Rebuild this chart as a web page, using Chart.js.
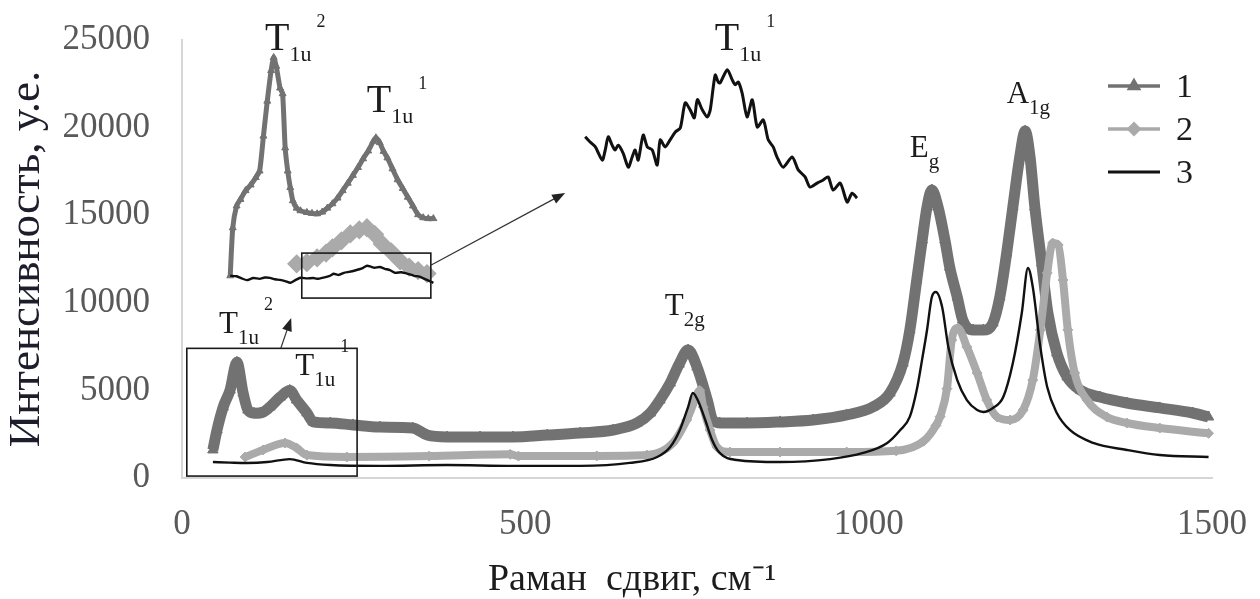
<!DOCTYPE html>
<html>
<head>
<meta charset="utf-8">
<title>Раман спектры</title>
<script src="https://cdn.jsdelivr.net/npm/chart.js@4.4.1/dist/chart.umd.min.js"></script>
<style>
  body { margin: 0; background: #fff; }
  #wrap { position: relative; width: 1260px; height: 599px; }
  #wrap canvas { position: absolute; }
</style>
</head>
<body>
<div id="wrap">
  <canvas id="raman" width="1260" height="599" style="left:0;top:0"></canvas>
  <canvas id="zoom-low" width="230" height="262" style="left:220px;top:40px"></canvas>
  <canvas id="zoom-t1u" width="290" height="150" style="left:575px;top:60px"></canvas>
</div>
<script>
// ---- spectra, Raman shift (cm-1) / intensity (a.u.) ----
var shift1 = [45,51,60,70,80,89,96,105,114,128,143,157,167,182,191,216,249,288,336,357,386,434,482,532,580,628,663,682,696,711,724,737,750,765,773,783,823,871,919,968,1006,1031,1050,1060,1070,1078,1085,1092,1101,1111,1118,1129,1137,1152,1167,1181,1191,1201,1210,1220,1228,1235,1242,1252,1261,1274,1289,1308,1337,1376,1424,1472,1495];
var int1 = [1600,2740,4050,5020,6600,4850,3880,3700,3710,4050,4620,5000,4450,3710,3200,3140,3030,2910,2850,2450,2340,2340,2340,2450,2570,2740,3140,3710,4450,5420,6500,7300,6340,4450,3310,3140,3140,3200,3310,3600,4050,4850,6560,8450,11300,13590,15470,16440,15470,13590,12040,10330,9020,8450,8450,8850,10330,12840,15470,18320,19800,18320,15470,12270,9420,7140,5770,5020,4620,4280,4000,3710,3480];

var shift2 = [92,118,150,167,182,240,360,478,490,604,677,715,735,747,754,759,769,779,798,871,968,1040,1080,1098,1104,1114,1121,1130,1143,1158,1172,1187,1206,1225,1239,1250,1260,1268,1276,1283,1290,1300,1318,1347,1376,1424,1495];
var int2 = [1200,1600,2000,1710,1310,1200,1250,1350,1250,1260,1310,2000,3310,4450,5000,4050,2740,1770,1480,1480,1480,1550,2100,3000,3500,5100,7880,8560,7480,5990,4450,3480,3310,3880,5590,8450,11700,13410,13300,11300,8450,5990,4450,3480,3140,2850,2550];

var shift3 = [45,70,95,124,157,182,216,288,386,482,580,652,692,711,725,737,744,751,762,772,783,808,871,944,992,1027,1046,1060,1070,1078,1085,1092,1098,1107,1116,1129,1143,1158,1167,1181,1196,1210,1223,1232,1239,1250,1260,1274,1293,1327,1376,1424,1495];
var int3 = [910,880,860,910,1080,860,740,690,740,690,690,860,1200,1770,2740,4050,4850,4450,3310,2170,1430,1030,910,1080,1430,2000,2740,3500,5020,6800,8450,10330,10620,9760,7480,5590,4450,3880,3770,4000,4620,6560,9420,11990,10900,7480,5190,3710,2740,2000,1600,1310,1200];

// low-frequency region (T1u modes), enlarged
var zoomShift1 = [45,47,50,53,57,61,65,68,71,74,77,79,81,84,86,88,90,92,94,97,100,105,109,113,117,121,125,129,133,137,141,145,149,153,157,159,162,165,168,172,176,180,184,188,192,196,200,204];
var zoomInt1 = [1700,2800,3300,3450,3650,3780,3950,4100,4900,5700,6400,6700,6500,6000,5870,4630,4100,3720,3420,3250,3190,3150,3130,3120,3160,3250,3350,3480,3650,3820,4000,4180,4380,4560,4780,4860,4750,4550,4400,4150,3900,3700,3500,3300,3100,3030,3010,3010];
var zoomShift2 = [97,105,113,120,125,132,139,146,152,158,164,171,178,185,192,199];
var zoomInt2 = [1975,2000,2110,2220,2340,2500,2660,2750,2800,2650,2430,2250,2040,1900,1820,1750];
var zoomShift3 = [45,50,54,58,63,68,72,76,80,84,88,92,96,100,105,110,113,118,123,126,130,134,138,142,146,149,152,155,158,162,166,170,174,179,184,189,193,197,201,204];
var zoomInt3 = [1700,1690,1640,1600,1650,1630,1660,1654,1620,1608,1580,1540,1600,1654,1640,1650,1631,1660,1700,1746,1720,1769,1790,1815,1850,1883,1929,1910,1883,1900,1860,1830,1769,1780,1746,1700,1680,1631,1580,1540];

// sample 3, T1u(1) band in detail
var detailShift = [100.7,102.5,104.4,106.9,108,109.1,110.5,111.6,112.7,114.5,116.4,117.8,118.9,120,121.8,123.3,125.1,126.9,128,129.8,131.6,133.5,135.3,137.1,138.9,140.4,141.5,143.3,145.1,146.2,148,149.1,149.8,152.4,154.2,155.3,156.4,157.8,159.6,161.5,163.3,165.5,167.3,169.1,170.5,172.7,176,178.2,180.7,182.5,185.1,187.3,189.1,190.9,193.5,196,197.8,199.6];
var detailInt = [998,986,975,945,968,998,979,968,979,961,929,952,968,945,1002,975,968,934,991,975,991,1009,1018,1075,1059,1041,1082,1059,1043,1059,1138,1122,1120,1150,1127,1116,1122,1097,1043,1082,1020,1036,991,975,952,929,952,923,907,884,893,900,907,877,893,850,870,859];

var xTicks = [0, 500, 1000, 1500];
var yTicks = [0, 5000, 10000, 15000, 20000, 25000];
var seriesNames = ['1', '2', '3'];
var xTitle = 'Раман  сдвиг, см⁻¹';
var yTitle = 'Интенсивность, у.е.';

// mode labels, anchored in main-axis units (big = labels of the enlarged panels)
var modeLabels = [
  {x: 54,   y: 8280,  main: 'T', sub: '1u', sup: '2'},
  {x: 165,  y: 5880,  main: 'T', sub: '1u', sup: '1'},
  {x: 703,  y: 9300,  main: 'T', sub: '2g'},
  {x: 1060, y: 18320, main: 'E', sub: 'g'},
  {x: 1201, y: 21400, main: 'A', sub: '1g'},
  {x: 121,  y: 24430, main: 'T', sub: '1u', sup: '2', big: true},
  {x: 269,  y: 20890, main: 'T', sub: '1u', sup: '1', big: true},
  {x: 776,  y: 24430, main: 'T', sub: '1u', sup: '1', big: true}
];
var lowBox = {x0: 7, x1: 255, y0: 110, y1: 7400};
var detailBox = {x0: 101, x1: 202, y0: 1190, y1: 2220};

var serif = '"Liberation Serif", "Times New Roman", serif';
Chart.defaults.font.family = serif;
Chart.defaults.animation = false;

var C1 = '#727272', C2 = '#aaaaaa', C3 = '#111111';

function pts(xs, ys) {
  return xs.map(function (x, i) { return {x: x, y: ys[i]}; });
}

function arrow(ctx, x1, y1, x2, y2) {
  var a = Math.atan2(y2 - y1, x2 - x1), len = 13, half = 5;
  ctx.beginPath();
  ctx.moveTo(x1, y1);
  ctx.lineTo(x2 - len * 0.6 * Math.cos(a), y2 - len * 0.6 * Math.sin(a));
  ctx.stroke();
  ctx.beginPath();
  ctx.moveTo(x2, y2);
  ctx.lineTo(x2 - len * Math.cos(a) + half * Math.sin(a), y2 - len * Math.sin(a) - half * Math.cos(a));
  ctx.lineTo(x2 - len * Math.cos(a) - half * Math.sin(a), y2 - len * Math.sin(a) + half * Math.cos(a));
  ctx.closePath();
  ctx.fill();
}

function modeLabel(ctx, px, py, l) {
  var big = l.big ? 40 : 31, small = l.big ? 22 : 21;
  ctx.textAlign = 'left';
  ctx.textBaseline = 'alphabetic';
  ctx.font = big + 'px ' + serif;
  ctx.fillText(l.main, px, py);
  var w = ctx.measureText(l.main).width;
  ctx.font = small + 'px ' + serif;
  ctx.fillText(l.sub, px + w, py + 11);
  if (l.sup) {
    var ws = ctx.measureText(l.sub).width;
    ctx.font = '18px ' + serif;
    ctx.fillText(l.sup, px + w + ws + 5, py - 23);
  }
}

// boxes, arrows, mode labels, x title and the legend of the main panel
var annotations = {
  id: 'annotations',
  afterDraw: function (chart) {
    var ctx = chart.ctx, xs = chart.scales.x, ys = chart.scales.y;
    ctx.save();
    ctx.strokeStyle = '#1a1a1a';
    ctx.lineWidth = 1.6;
    var bx0 = xs.getPixelForValue(lowBox.x0), bx1 = xs.getPixelForValue(lowBox.x1);
    var by0 = ys.getPixelForValue(lowBox.y0), by1 = ys.getPixelForValue(lowBox.y1);
    ctx.strokeRect(bx0, by1, bx1 - bx0, by0 - by1);

    ctx.strokeStyle = '#333';
    ctx.fillStyle = '#222';
    ctx.lineWidth = 1.2;
    arrow(ctx, xs.getPixelForValue(144), ys.getPixelForValue(7420),
               xs.getPixelForValue(159), ys.getPixelForValue(9130));
    arrow(ctx, xs.getPixelForValue(363), ys.getPixelForValue(12160),
               xs.getPixelForValue(558), ys.getPixelForValue(16270));

    ctx.fillStyle = '#1c1c1c';
    modeLabels.forEach(function (l) {
      modeLabel(ctx, xs.getPixelForValue(l.x), ys.getPixelForValue(l.y), l);
    });

    // axis title, set a little left of the plot centre
    ctx.font = '38px ' + serif;
    ctx.textAlign = 'center';
    ctx.textBaseline = 'middle';
    ctx.fillText(xTitle, 632, 580);

    // legend
    var rowY = [86, 129, 172];
    ctx.textAlign = 'left';
    chart.data.datasets.forEach(function (ds, i) {
      var y = rowY[i];
      ctx.strokeStyle = ds.borderColor;
      ctx.lineWidth = i === 2 ? 3 : 3.5;
      ctx.beginPath();
      ctx.moveTo(1108, y);
      ctx.lineTo(1160, y);
      ctx.stroke();
      if (ds.pointRadius) {
        ctx.fillStyle = ds.backgroundColor;
        Chart.helpers.drawPoint(ctx, {pointStyle: ds.pointStyle, radius: 5,
          borderWidth: 1, rotation: 0}, 1134, y);
      }
      ctx.fillStyle = '#1c1c1c';
      ctx.font = '34px ' + serif;
      ctx.textBaseline = 'middle';
      ctx.fillText(seriesNames[i], 1176, y + 2);
    });
    ctx.restore();
  }
};

// keep the plot area fixed: tick labels may hang outside it
function noOverhang(s) {
  s.paddingTop = 0; s.paddingBottom = 0; s.paddingLeft = 0; s.paddingRight = 0;
}

var main = new Chart(document.getElementById('raman'), {
  type: 'line',
  data: {
    datasets: [
      {label: seriesNames[0], data: pts(shift1, int1), borderColor: C1, backgroundColor: C1,
       borderWidth: 11, pointStyle: 'triangle', pointRadius: 6, pointBorderWidth: 1,
       cubicInterpolationMode: 'monotone', clip: false, order: 3},
      {label: seriesNames[1], data: pts(shift2, int2), borderColor: C2, backgroundColor: C2,
       borderWidth: 8, pointStyle: 'rectRot', pointRadius: 5, pointBorderWidth: 1,
       cubicInterpolationMode: 'monotone', clip: false, order: 2},
      {label: seriesNames[2], data: pts(shift3, int3), borderColor: C3, backgroundColor: C3,
       borderWidth: 2.4, pointRadius: 0,
       cubicInterpolationMode: 'monotone', clip: false, order: 1}
    ]
  },
  options: {
    responsive: false,
    devicePixelRatio: 1,
    events: [],
    layout: {autoPadding: false, padding: {top: 40, right: 48, left: 0, bottom: 0}},
    scales: {
      x: {
        type: 'linear', min: 0, max: 1500,
        afterBuildTicks: function (s) { s.ticks = xTicks.map(function (v) { return {value: v}; }); },
        afterFit: function (s) { s.height = 121; noOverhang(s); },
        grid: {drawOnChartArea: false, drawTicks: false},
        border: {color: '#d6d6d6', width: 2},
        ticks: {color: '#595959', font: {size: 35}, padding: 26, maxRotation: 0,
                callback: function (v) { return String(v); }}
      },
      y: {
        min: 0, max: 25000,
        afterBuildTicks: function (s) { s.ticks = yTicks.map(function (v) { return {value: v}; }); },
        afterFit: function (s) { s.width = 182; noOverhang(s); },
        grid: {drawOnChartArea: false, drawTicks: false},
        border: {color: '#d6d6d6', width: 2},
        ticks: {color: '#595959', font: {size: 35}, padding: 32,
                callback: function (v) { return String(v); }},
        title: {display: true, text: yTitle, color: '#1d1d2b',
                font: {size: 45}, padding: {top: 0, bottom: 0}}
      }
    },
    plugins: {legend: {display: false}, tooltip: {enabled: false}}
  },
  plugins: [annotations]
});

function insetChart(id, sets, xr, yr, extra) {
  return new Chart(document.getElementById(id), {
    type: 'line',
    data: {datasets: sets},
    options: {
      responsive: false, devicePixelRatio: 1, events: [],
      layout: {autoPadding: false, padding: 0},
      scales: {
        x: {type: 'linear', display: false, min: xr[0], max: xr[1]},
        y: {display: false, min: yr[0], max: yr[1]}
      },
      plugins: {legend: {display: false}, tooltip: {enabled: false}}
    },
    plugins: extra ? [extra] : []
  });
}

var boxPlugin = {
  id: 'detailBox',
  afterDatasetsDraw: function (chart) {
    var ctx = chart.ctx, xs = chart.scales.x, ys = chart.scales.y;
    var x0 = xs.getPixelForValue(detailBox.x0), x1 = xs.getPixelForValue(detailBox.x1);
    var y0 = ys.getPixelForValue(detailBox.y0), y1 = ys.getPixelForValue(detailBox.y1);
    ctx.save();
    ctx.strokeStyle = '#1a1a1a';
    ctx.lineWidth = 1.6;
    ctx.strokeRect(x0, y1, x1 - x0, y0 - y1);
    ctx.restore();
  }
};

insetChart('zoom-low', [
  {data: pts(zoomShift1, zoomInt1), borderColor: C1, backgroundColor: C1, borderWidth: 5,
   pointStyle: 'triangle', pointRadius: 4, pointBorderWidth: 1, tension: 0.2, clip: false, order: 3},
  {data: pts(zoomShift2, zoomInt2), borderColor: C2, backgroundColor: C2, borderWidth: 8,
   pointStyle: 'rectRot', pointRadius: 4, tension: 0.2, clip: false, order: 2},
  {data: pts(zoomShift3, zoomInt3), borderColor: C3, borderWidth: 2.4, pointRadius: 0,
   tension: 0.2, clip: false, order: 1}
], [37, 217], [1100, 7100], boxPlugin);

insetChart('zoom-t1u', [
  {data: pts(detailShift, detailInt), borderColor: C3, borderWidth: 3, pointRadius: 0,
   tension: 0.25, clip: false}
], [97, 202.5], [832, 1172]);
</script>
</body>
</html>
